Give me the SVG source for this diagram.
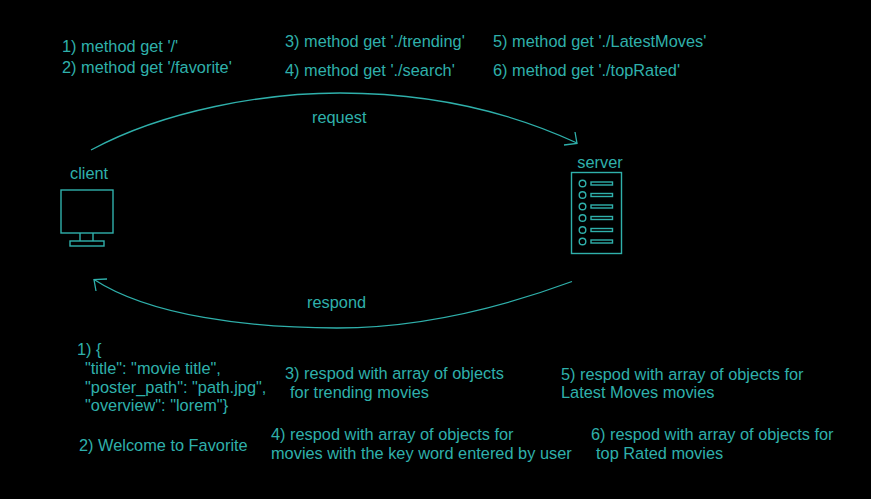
<svg xmlns="http://www.w3.org/2000/svg" width="871" height="499" viewBox="0 0 871 499">
<style>
text{font-family:"Liberation Sans",Arial,sans-serif;font-size:16.35px;fill:#2fb0ab}
.s{fill:none;stroke:#2fb0ab;stroke-width:1.4}
.t{stroke-width:1.3;fill:none;stroke:#2fb0ab}
</style>
<rect width="871" height="499" fill="#000"/>
<g id="connectors">
<path class="t" d="M91 150C165 110 265 93 340 93C430 93 510 112 577 143"/>
<path class="t" d="M564 145L577 143.500L575 132"/>
<path class="t" d="M572 281.500C500 308 420 328 337 328C250 328 150 316 94 279.500"/>
<path class="t" d="M107 279L94 279.500L96 291"/>
</g>
<g id="client">
<text x="70" y="178.700">client</text>
<rect class="s" x="61" y="190" width="52" height="43"/>
<path class="s" d="M80 233V241M93 233V241"/>
<rect class="s" x="70" y="241" width="34" height="5"/>
</g>
<g id="server">
<text x="577.300" y="168">server</text>
<rect class="s" x="571.500" y="172.500" width="50" height="81"/>
<g class="s">
<circle cx="582.500" cy="183.500" r="3.300"/><rect x="591" y="182" width="21.500" height="3"/>
<circle cx="582.500" cy="195" r="3.300"/><rect x="591" y="193.500" width="21.500" height="3"/>
<circle cx="582.500" cy="206.500" r="3.300"/><rect x="591" y="205" width="21.500" height="3"/>
<circle cx="582.500" cy="218" r="3.300"/><rect x="591" y="216.500" width="21.500" height="3"/>
<circle cx="582.500" cy="230" r="3.300"/><rect x="591" y="228.500" width="21.500" height="3"/>
<circle cx="582.500" cy="241.500" r="3.300"/><rect x="591" y="240" width="21.500" height="3"/>
</g>
</g>
<g id="labels">
<text x="62" y="52.300">1) method get '/'</text>
<text x="62" y="73.300">2) method get '/favorite'</text>
<text x="285" y="46.700">3) method get './trending'</text>
<text x="285" y="75.700">4) method get './search'</text>
<text x="493" y="46.700">5) method get './LatestMoves'</text>
<text x="493" y="75.700">6) method get './topRated'</text>
<text x="312" y="122.700">request</text>
<text x="307" y="308">respond</text>
<text x="77" y="354.700">1) {</text>
<text x="85" y="373.700">"title": "movie title",</text>
<text x="85" y="392.500">"poster_path": "path.jpg",</text>
<text x="85" y="411.300">"overview": "lorem"}</text>
<text x="79" y="450.700">2) Welcome to Favorite</text>
<text x="285" y="378.700">3) respod with array of objects</text>
<text x="290" y="397.700">for trending movies</text>
<text x="271" y="439.700">4) respod with array of objects for</text>
<text x="271" y="458.500">movies with the key word entered by user</text>
<text x="561" y="379.700">5) respod with array of objects for</text>
<text x="561" y="398.300">Latest Moves movies</text>
<text x="591" y="439.700">6) respod with array of objects for</text>
<text x="596" y="458.500">top Rated movies</text>
</g>
</svg>
